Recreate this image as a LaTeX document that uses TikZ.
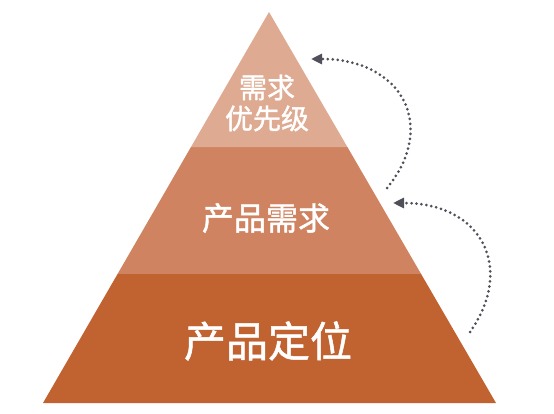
\documentclass[tikz,border=0pt]{standalone}
\usepackage{fontspec}
\usepackage{xcolor}
\usepackage{tikz}
\usetikzlibrary{arrows.meta, calc}
\newfontfamily\cjk[FakeBold=1.2]{Noto Sans CJK SC}
\definecolor{tiertop}{RGB}{222,171,146}
\definecolor{tiermid}{RGB}{207,131,97}
\definecolor{tierbot}{RGB}{193,98,49}
\definecolor{mydots}{RGB}{80,80,90}
\tikzset{
  tiertext/.style={text=white, align=center, font=\cjk, inner sep=0pt},
  looparrow/.style={-{Triangle[length=11pt,width=10pt]}, color=mydots,
    line width=3pt, line cap=round, dash pattern=on 0pt off 5pt}
}

\begin{document}
\begin{tikzpicture}[x=1pt, y=1pt]
  \useasboundingbox (0,0) rectangle (554,413);

  % Pyramid corners
  \coordinate (apex) at (269,401);
  \coordinate (bl) at (43,10);
  \coordinate (br) at (496,10);
  \coordinate (ml) at ($(bl)!0.33!(apex)$);
  \coordinate (mr) at ($(br)!0.33!(apex)$);
  \coordinate (tl) at ($(bl)!0.6547!(apex)$);
  \coordinate (tr) at ($(br)!0.6547!(apex)$);

  % Tiers
  \fill[tierbot] (bl) -- (br) -- (mr) -- (ml) -- cycle;
  \fill[tiermid] (ml) -- (mr) -- (tr) -- (tl) -- cycle;
  \fill[tiertop] (tl) -- (tr) -- (apex) -- cycle;

  % Labels
  \node[tiertext, font=\cjk\fontsize{28}{31}\selectfont] (prio) at (267,310) {需求\\优先级};
  \node[tiertext, font=\cjk\fontsize{32}{36}\selectfont] (req) at (266,195) {产品需求};
  \node[tiertext, font=\cjk\fontsize{42}{46}\selectfont] (pos) at (268,72) {产品定位};

  % Arrow ends
  \coordinate (up1) at (387,225);
  \coordinate (up2) at (311,354);
  \coordinate (lo1) at (470,81);
  \coordinate (lo2) at (393,210);

  % Arrows
  \draw[looparrow] (up1) .. controls (438,287) and (402,354) .. (up2);
  \draw[looparrow] (lo1) .. controls (515,145) and (482,210) .. (lo2);
\end{tikzpicture}
\end{document}
